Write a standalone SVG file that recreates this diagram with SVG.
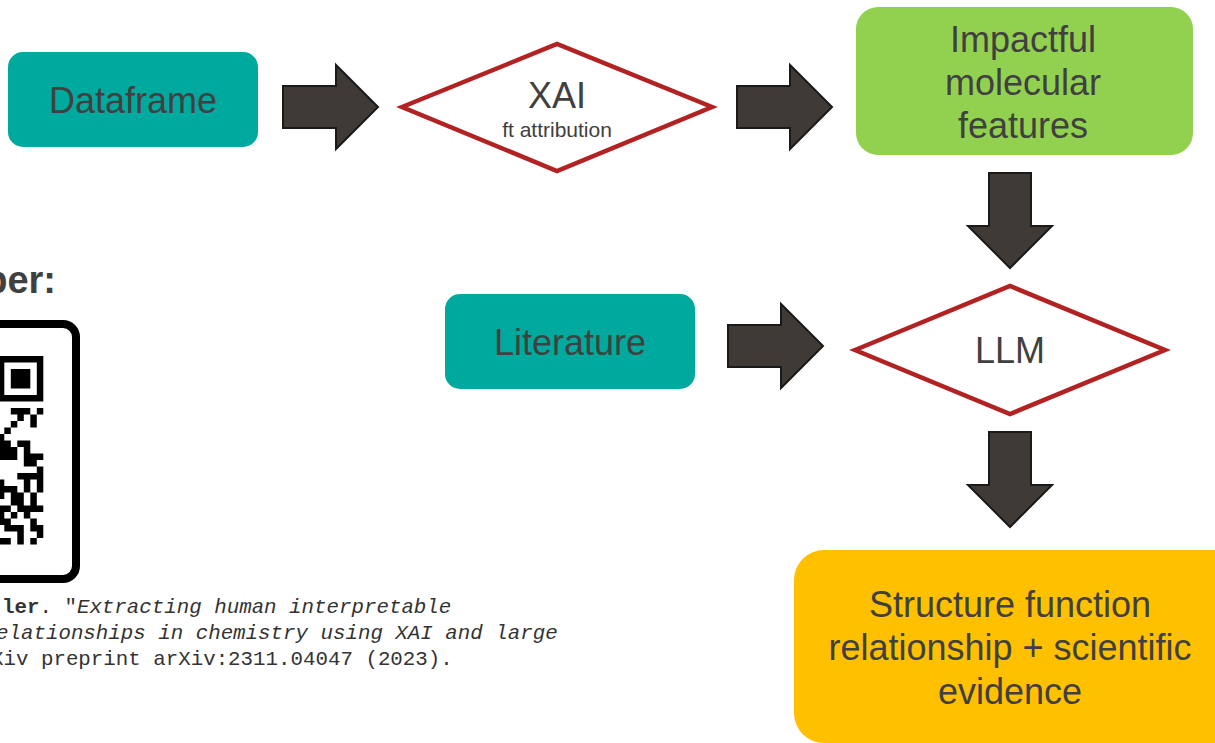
<svg xmlns="http://www.w3.org/2000/svg" width="1215" height="743" viewBox="0 0 1215 743">
<style>
.box-teal{fill:#00A99D}
.box-green{fill:#92D050}
.box-orange{fill:#FFC000}
.dia{fill:#FFFFFF;stroke:#B22222;stroke-width:4.5;stroke-linejoin:miter;stroke-miterlimit:10}
.arr{fill:#403A37;stroke:#1A1A1A;stroke-width:2;stroke-linejoin:miter}
.lbl{font-family:"Liberation Sans",Arial,sans-serif;font-size:36px;fill:#404040;text-anchor:middle}
.sub{font-family:"Liberation Sans",Arial,sans-serif;font-size:21px;fill:#404040;text-anchor:middle}
.head{font-family:"Liberation Sans",Arial,sans-serif;font-size:38px;font-weight:bold;fill:#404040;text-anchor:end}
.cite{font-family:"Liberation Mono","Courier New",monospace;font-size:20.8px;fill:#333333}
.qr{fill:#000000}
</style>
<rect width="1215" height="743" fill="#FFFFFF"/>

<g id="paper-label">
<text class="head" x="56" y="293">per:</text>
</g>

<g id="qr-code">
<rect x="-220" y="324" width="296" height="255" rx="13" fill="#FFFFFF" stroke="#000000" stroke-width="8"/>
<rect class="qr" x="-2.2" y="356" width="45.5" height="45.5"/>
<rect fill="#FFFFFF" x="4.3" y="362.5" width="32.5" height="32.5"/>
<rect class="qr" x="10.8" y="369" width="19.5" height="19.5"/>
<path class="qr" d="
M10.8 408h19.5v6.5h-19.5z M36.8 408h6.5v6.5h-6.5z
M17.3 414.5h6.5v6.5h-6.5z M30.3 414.5h6.5v6.5h-6.5z
M10.8 421h6.5v6.5h-6.5z M30.3 421h6.5v6.5h-6.5z
M4.3 427.5h6.5v6.5h-6.5z
M-2.2 434h6.5v6.5h-6.5z
M-2.2 440.5h13v6.5h-13z M17.3 440.5h13v6.5h-13z
M-2.2 447h19.5v6.5h-19.5z M23.8 447h6.5v6.5h-6.5z
M-2.2 453.5h19.5v6.5h-19.5z M23.8 453.5h19.5v6.5h-19.5z
M23.8 460h13v6.5h-13z
M36.8 466.5h6.5v6.5h-6.5z
M17.3 473h26v6.5h-26z
M-2.2 479.5h6.5v6.5h-6.5z M23.8 479.5h6.5v6.5h-6.5z M36.8 479.5h6.5v6.5h-6.5z
M-2.2 486h19.5v6.5h-19.5z M23.8 486h6.5v6.5h-6.5z M36.8 486h6.5v6.5h-6.5z
M-2.2 492.5h6.5v6.5h-6.5z M10.8 492.5h13v6.5h-13z M30.3 492.5h6.5v6.5h-6.5z
M10.8 499h13v6.5h-13z M30.3 499h6.5v6.5h-6.5z
M-2.2 505.5h13v6.5h-13z M17.3 505.5h26v6.5h-26z
M-2.2 512h6.5v6.5h-6.5z M10.8 512h6.5v6.5h-6.5z M23.8 512h6.5v6.5h-6.5z
M-2.2 518.5h13v6.5h-13z M30.3 518.5h6.5v6.5h-6.5z
M4.3 525h19.5v6.5h-19.5z M30.3 525h13v6.5h-13z
M17.3 531.5h6.5v6.5h-6.5z M36.8 531.5h6.5v6.5h-6.5z
M-2.2 538h13v6.5h-13z M17.3 538h6.5v6.5h-6.5z M30.3 538h6.5v6.5h-6.5z"/>
</g>

<g id="citation">
<text class="cite" x="2" y="613"><tspan font-weight="bold">ler</tspan>. "<tspan font-style="italic">Extracting human interpretable</tspan></text>
<text class="cite" x="-4" y="639" font-style="italic">elationships in chemistry using XAI and large</text>
<text class="cite" x="-9" y="665">Xiv preprint arXiv:2311.04047 (2023).</text>
</g>

<g id="connectors">
<path class="arr" d="M283 86H336V65L378 107L336 149V128H283Z"/>
<path class="arr" d="M737 86H790V65L832 107L790 149V128H737Z"/>
<path class="arr" d="M728 325H781V304L823 346L781 388V367H728Z"/>
<path class="arr" d="M989 173V226H968L1010 268L1052 226H1031V173Z"/>
<path class="arr" d="M989 432V485H968L1010 527L1052 485H1031V432Z"/>
</g>

<g id="node-dataframe">
<rect class="box-teal" x="8" y="52" width="250" height="95" rx="15"/>
<text class="lbl" x="133" y="113">Dataframe</text>
</g>

<g id="node-xai">
<polygon class="dia" points="402,107 557,44 712,107 557,171"/>
<text class="lbl" x="557" y="108">XAI</text>
<text class="sub" x="557" y="137">ft attribution</text>
</g>

<g id="node-features">
<rect class="box-green" x="856" y="7" width="337" height="148" rx="22"/>
<text class="lbl" x="1023" y="52">Impactful</text>
<text class="lbl" x="1023" y="95">molecular</text>
<text class="lbl" x="1023" y="138">features</text>
</g>

<g id="node-literature">
<rect class="box-teal" x="445" y="294" width="250" height="95" rx="15"/>
<text class="lbl" x="570" y="355">Literature</text>
</g>

<g id="node-llm">
<polygon class="dia" points="855,350 1010,286 1165,350 1010,414"/>
<text class="lbl" x="1010" y="363">LLM</text>
</g>

<g id="node-result">
<rect class="box-orange" x="794" y="550" width="460" height="193" rx="30"/>
<text class="lbl" x="1010" y="617">Structure function</text>
<text class="lbl" x="1010" y="660">relationship + scientific</text>
<text class="lbl" x="1010" y="704">evidence</text>
</g>
</svg>
